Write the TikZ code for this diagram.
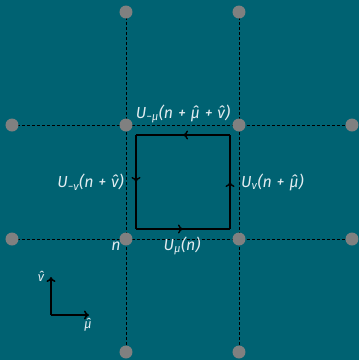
\documentclass[tikz,border=0pt]{standalone}
\usepackage{fontspec}
\setmainfont{Fira Sans}
\usetikzlibrary{arrows.meta,decorations.markings}
\definecolor{bgteal}{RGB}{0,98,114}
\definecolor{lbltext}{RGB}{226,236,240}

\tikzset{
  site/.style={circle, minimum size=13pt, inner sep=0pt},
  gridline/.style={black, line width=0.9pt, dash pattern=on 3pt off 2pt},
  link/.style={black, line width=2pt,
    postaction={decorate, decoration={markings,
      mark=at position 0.5 with {\arrow[line width=1.4pt]{To[length=5pt,width=9pt]}}}}},
  lbl/.style={inner sep=1pt, text=lbltext, font=\fontsize{16}{18}\selectfont\itshape},
}
\newcommand{\plus}{\hspace{0.3em}+\hspace{0.3em}}

\begin{document}
\begin{tikzpicture}[x=1pt, y=-1pt, >={To[length=5pt,width=9pt]}]
  \fill[bgteal] (0,0) rectangle (359,360);
  \useasboundingbox (0,0) rectangle (359,360);

  % lattice sites
  \node[site] (s10) at (126,12) {};
  \node[site] (s20) at (239,12) {};
  \node[site] (s01) at (12,125) {};
  \node[site] (s11) at (126,125) {};
  \node[site] (s21) at (239,125) {};
  \node[site] (s31) at (352,125) {};
  \node[site] (s02) at (12,239) {};
  \node[site] (s12) at (126,239) {};
  \node[site] (s22) at (239,239) {};
  \node[site] (s32) at (352,239) {};
  \node[site] (s13) at (126,352) {};
  \node[site] (s23) at (239,352) {};

  \draw[gridline] (s10.center) -- (s13.center);
  \draw[gridline] (s20.center) -- (s23.center);
  \draw[gridline] (s01.center) -- (s31.center);
  \draw[gridline] (s02.center) -- (s32.center);
  \foreach \s in {s10,s20,s01,s11,s21,s31,s02,s12,s22,s32,s13,s23}
    \fill[gray] (\s) circle (6.5pt);

  % plaquette
  \coordinate (p1) at (136,229);
  \coordinate (p2) at (230,229);
  \coordinate (p3) at (230,135);
  \coordinate (p4) at (136,135);
  \draw[link] (p1) -- (p2);
  \draw[link] (p2) -- (p3);
  \draw[link] (p3) -- (p4);
  \draw[link] (p4) -- (p1);

  \node[lbl] (ltop) at (183,114) {U\textsubscript{−μ}(n\plus\^{μ}\plus\^{ν})};
  \node[lbl, anchor=east] (lleft) at (125,182) {U\textsubscript{−ν}(n\plus\^{ν})};
  \node[lbl, anchor=west] (lright) at (240,182) {U\textsubscript{ν}(n\plus\^{μ})};
  \node[lbl] (lbot) at (182,246) {U\textsubscript{μ}(n)};
  \node[lbl] (ln) at (116,246) {n};

  % unit vectors
  \coordinate (o) at (51,315);
  \coordinate (ey) at (51,277);
  \coordinate (ex) at (89,315);
  \draw[->, line width=1.6pt] (o) -- (ey);
  \draw[->, line width=1.6pt] (o) -- (ex);
  \node[lbl, font=\fontsize{13}{15}\selectfont\itshape] (lnu) at (41,276) {\^{ν}};
  \node[lbl, font=\fontsize{13}{15}\selectfont\itshape] (lmu) at (88,325) {\^{μ}};
\end{tikzpicture}
\end{document}
